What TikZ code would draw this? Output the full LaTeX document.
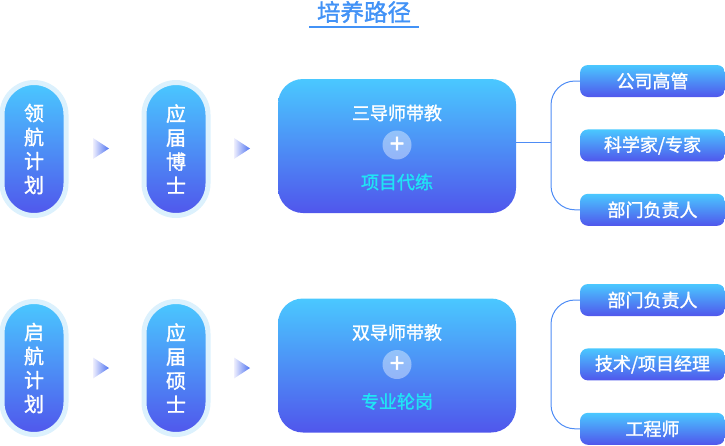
\documentclass[tikz,border=0pt]{standalone}
\usepackage{fontspec}
\setmainfont{Noto Sans CJK SC}[FakeBold=1.4]
\usetikzlibrary{positioning,calc}

\definecolor{gtop}{RGB}{74,200,255}
\definecolor{gbot}{RGB}{80,86,236}
\definecolor{glow}{RGB}{220,241,253}
\definecolor{linkblue}{RGB}{78,140,245}
\definecolor{subcyan}{RGB}{32,228,245}
\definecolor{titleblue}{RGB}{66,146,246}

\begin{document}
\begin{tikzpicture}[
      x=1pt, y=-1pt,
      pill/.style={top color=gtop, bottom color=gbot, draw=glow, line width=5pt, rounded corners=32pt,
        minimum width=64pt, minimum height=133pt, inner sep=0pt, align=center, text=white,
        font=\fontsize{20}{24}\selectfont},
      bigbox/.style={top color=gtop, bottom color=gbot, rounded corners=25pt, minimum width=238pt, minimum height=134pt},
      leaf/.style={top color=gtop, bottom color=gbot, rounded corners=8pt, minimum width=145pt, minimum height=32pt,
        inner sep=0pt, text=white, font=\fontsize{18}{18}\selectfont},
      main/.style={text=white, font=\fontsize{18}{18}\selectfont},
      sub/.style={text=subcyan, font=\fontsize{18}{18}\selectfont},
      plusdot/.style={circle, fill=white, fill opacity=0.4, text opacity=1, text=white, minimum size=29pt,
        inner sep=0pt, font=\fontsize{26}{26}\selectfont},
      tri/.style={left color=gbot!10!white, right color=gbot!75!gtop},
      link/.style={draw=linkblue, line width=1pt},
    ]
    \useasboundingbox (0,0) rectangle (725,445);

    \node[font=\fontsize{23.5}{23.5}\selectfont, text=titleblue] (title) at (364,12) {培养路径};
    \draw[draw=titleblue, line width=1.5pt] ($(title.center)+(-55,15)$) -- ($(title.center)+(55,15)$);

    % first track
    \node[pill] (lh) at (34,149) {领\\航\\计\\划};
    \node[pill] (yb) at (176,149) {应\\届\\博\\士};
    \coordinate (ar1) at (101,148.5);
    \coordinate (ar2) at (242,148.5);
    \shade[tri] ($(ar1)+(-8,-10.5)$) -- ($(ar1)+(8,0)$) -- ($(ar1)+(-8,10.5)$) -- cycle;
    \shade[tri] ($(ar2)+(-8,-10.5)$) -- ($(ar2)+(8,0)$) -- ($(ar2)+(-8,10.5)$) -- cycle;

    \node[bigbox] (sd) at (397,146) {};
    \node[main] (sdt) at ($(sd.center)+(0,-33)$) {三导师带教};
    \node[plusdot] (sdp) at ($(sd.center)+(0,-1)$) {+};
    \node[sub] (sdx) at ($(sd.center)+(0,36)$) {项目代练};

    \node[leaf] (gs) at (652.5,81) {公司高管};
    \node[leaf, below=32pt of gs] (kx) {科学家/专家};
    \node[leaf, below=32pt of kx] (fz) {部门负责人};

    \coordinate (j1) at (551,142);
    \draw[link] (sd.east |- j1) -- (j1);
    \draw[link, rounded corners=24pt] (gs.west) -| (j1) |- (fz.west);

    % second track
    \node[pill] (qh) at (34,368) {启\\航\\计\\划};
    \node[pill] (ys) at (176,368) {应\\届\\硕\\士};
    \coordinate (ar3) at (101,368);
    \coordinate (ar4) at (242,368);
    \shade[tri] ($(ar3)+(-8,-10.5)$) -- ($(ar3)+(8,0)$) -- ($(ar3)+(-8,10.5)$) -- cycle;
    \shade[tri] ($(ar4)+(-8,-10.5)$) -- ($(ar4)+(8,0)$) -- ($(ar4)+(-8,10.5)$) -- cycle;

    \node[bigbox] (ss) at (397,365.5) {};
    \node[main] (sst) at ($(ss.center)+(0,-33)$) {双导师带教};
    \node[plusdot] (ssp) at ($(ss.center)+(0,-1)$) {+};
    \node[sub] (ssx) at ($(ss.center)+(0,36)$) {专业轮岗};

    \node[leaf] (bm) at (652.5,300) {部门负责人};
    \node[leaf, below=32pt of bm] (js) {技术/项目经理};
    \node[leaf, below=32pt of js] (gc) {工程师};

    \coordinate (j2) at (551,361);
    \draw[link, rounded corners=24pt] (bm.west) -| (j2) |- (gc.west);
  \end{tikzpicture}
\end{document}
